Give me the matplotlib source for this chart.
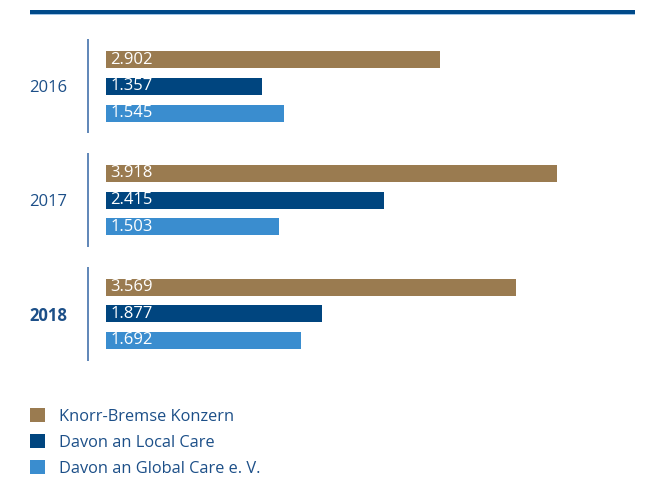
import matplotlib
matplotlib.use("Agg")
import matplotlib.pyplot as plt
from matplotlib.patches import Rectangle, Patch

years = ["2016", "2017", "2018"]
series_names = ["Knorr-Bremse Konzern", "Davon an Local Care", "Davon an Global Care e. V."]
konzern = [2.902, 3.918, 3.569]
local_care = [1.357, 2.415, 1.877]
global_care = [1.545, 1.503, 1.692]
value_labels = [["2.902", "3.918", "3.569"],
                ["1.357", "2.415", "1.877"],
                ["1.545", "1.503", "1.692"]]

colors = ["#9a7b50", "#00457f", "#3a8dcf"]
text_blue = "#1c4f88"
font = "Open Sans"

W, H = 646, 495
fig = plt.figure(figsize=(W / 100, H / 100), dpi=100)

# main axes (pixel layout)
left_px, right_px = 106, 640
top_px, bot_px = 30, 370
ax = fig.add_axes([left_px / W, (H - bot_px) / H, (right_px - left_px) / W, (bot_px - top_px) / H])
px_per_unit = 115.0
ax.set_xlim(0, (right_px - left_px) / px_per_unit)
gap = 113.75
c0 = 86.3
ax.set_ylim((bot_px - c0) / gap, -(c0 - top_px) / gap)

off = 26.7 / gap
bh = 17 / gap
series = [konzern, local_care, global_care]
for s, (vals, col) in enumerate(zip(series, colors)):
    ys = [i + (s - 1) * off for i in range(len(years))]
    ax.barh(ys, vals, height=bh, color=col, left=0)
    for y, v, lab in zip(ys, vals, value_labels[s]):
        ax.annotate(lab, xy=(0, y), xytext=(3, 0), textcoords="offset points",
                    ha="left", va="center", color="white", fontsize=12, family=font)

for sp in ax.spines.values():
    sp.set_visible(False)
ax.set_xticks([])
ax.set_yticks(range(len(years)))
ax.set_yticklabels(years)
ax.tick_params(axis="y", length=0, pad=28)
for i, t in enumerate(ax.get_yticklabels()):
    t.set_color(text_blue)
    t.set_fontsize(12)
    t.set_family(font)
    if i == 2:
        t.set_fontweight("bold")

# separator lines
xsep = (88 - left_px) / (right_px - left_px)
for i in range(len(years)):
    ax.vlines(xsep, i - 47 / gap, i + 47 / gap, transform=ax.get_yaxis_transform(),
              color="#5f86b8", lw=1.4, clip_on=False)

# top rule
fig.add_artist(Rectangle((30 / W, (H - 14) / H), 605 / W, 4 / H, transform=fig.transFigure,
                         color="#004a8a", lw=0))
fig.add_artist(Rectangle((30 / W, (H - 15) / H), 605 / W, 1.2 / H, transform=fig.transFigure,
                         color="#9fc3e6", lw=0))

# legend
handles = [Patch(facecolor=c, edgecolor="none") for c in colors]
leg = fig.legend(handles, series_names, loc="upper left", bbox_to_anchor=(30 / W, (H - 408) / H),
                 frameon=False, prop={"family": font, "size": 11.8},
                 handlelength=0.92, handleheight=0.92, handletextpad=0.85, labelspacing=0.58,
                 borderpad=0, borderaxespad=0)
for t in leg.get_texts():
    t.set_color(text_blue)

fig.savefig("out.png", dpi=100)
